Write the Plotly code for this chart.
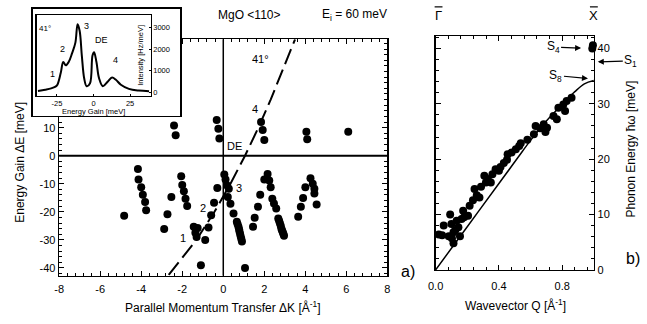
import plotly.graph_objects as go

W, H = 647, 324
FONT = "Liberation Sans, Arial, sans-serif"

# ---------------- data: panel a) ----------------
dk_points = [-2.4, -2.32, -0.32, -0.24, -0.19, 1.84, 1.92, 2.0, 4.05, 4.09, 6.09,
             -4.16, -4.13, -4.0, -3.92, -3.81, -3.76, -4.83,
             -2.53, -2.72, -2.88,
             -2.05, -2.0, -1.92, -1.84, -1.76,
             -1.44, -1.25, -1.36, -1.3, -0.88, -0.72, -1.09,
             -0.59, -0.45, -0.29,
             0.05, 0.11, 0.19, 0.27, 0.22, 0.35, 0.5, 0.66, 0.70, 0.74, 0.77, 0.79, 0.82, 0.85, 0.88, 0.91, 1.06,
             2.16, 2.0, 2.24, 2.31, 2.39, 2.47, 1.80, 1.69, 1.53, 1.45,
             2.58, 2.68, 2.72, 2.76, 2.80, 2.83, 2.86, 2.9, 2.93, 2.96,
             4.25, 4.36, 4.44, 4.44, 4.55, 4.0, 3.89, 3.78, 3.65]
de_points = [10.8, 7.3, 12.7, 9.6, 6.1, 12.0, 9.2, 5.6, 8.5, 5.9, 8.5,
             -4.7, -8.5, -11.2, -13.9, -16.5, -19.4, -21.4,
             -14.7, -20.9, -26.1,
             -7.3, -10.4, -12.7, -15.3, -17.9,
             -25.3, -25.8, -27.5, -29.0, -30.0, -25.6, -39.0,
             -21.2, -16.8, -11.5,
             -6.7, -8.5, -10.6, -11.8, -14.7, -17.1, -20.6, -23.5, -24.4, -25.3, -26.2, -27.0, -27.9, -28.8, -29.7, -30.6, -40.0,
             -6.5, -8.5, -8.8, -11.2, -15.3, -17.0, -13.9, -18.2, -22.1, -25.3,
             -18.8, -22.4, -23.2, -24.1, -25.0, -25.9, -26.6, -27.3, -27.9, -28.5,
             -8.0, -10.0, -11.8, -13.5, -17.4, -11.2, -15.1, -18.2, -21.8]

# scan curve (dashed)
scan_dk = [-2.66, -1.31, -0.43, 0.35, 1.06, 1.71, 2.31, 2.88, 3.50]
scan_de = [-42.5, -30.0, -20.0, -10.0, 0.0, 10.0, 20.0, 30.0, 41.5]

a_xticks = [-8, -6, -4, -2, 0, 2, 4, 6, 8]
a_yticks = [-40, -30, -20, -10, 0, 10]

# ---------------- data: inset spectrum ----------------
inset_e = [-38, -33, -29, -26, -24.7, -22.4, -20.7, -19.0, -17.0, -14.7, -12.4, -10.9, -9.5, -8.0,
           -6.4, -4.7, -2.4, -0.7, 0.4, 2.0, 3.8, 6.4, 9.8, 12.7, 15.3, 18.7, 24.2, 30.9, 38]
inset_i = [60, 120, 180, 260, 350, 900, 1400, 1250, 1400, 1800, 2300, 3150, 2850, 1700,
           650, 280, 420, 1700, 1850, 1400, 650, 280, 500, 680, 580, 350, 160, 80, 50]
inset_xticks = [-25, 0, 25]
inset_yticks = [0, 1000, 2000, 3000]

# ---------------- data: panel b) ----------------
q_points = [0.02, 0.041, 0.051, 0.083, 0.092, 0.10, 0.103, 0.113, 0.113, 0.125, 0.133, 0.144, 0.154,
            0.164, 0.174, 0.18, 0.205, 0.215, 0.236, 0.246, 0.26, 0.277, 0.287, 0.308, 0.318, 0.33,
            0.349, 0.359, 0.379, 0.40, 0.41, 0.431, 0.451, 0.455, 0.48, 0.507, 0.528, 0.538, 0.58,
            0.621, 0.632, 0.66, 0.683, 0.694, 0.704, 0.745, 0.766, 0.776, 0.807, 0.818, 0.828, 0.859,
            0.99, 0.994]
e_points = [6.4, 6.25, 8.0, 6.1, 10.0, 8.3, 5.7, 6.8, 4.8, 7.2, 8.9, 7.7, 6.1,
            9.2, 10.7, 9.5, 9.8, 11.6, 12.6, 14.6, 13.5, 13.1, 15.0, 17.0, 15.8, 16.4,
            15.8, 17.3, 18.2, 17.9, 18.6, 19.3, 19.9, 20.9, 21.2, 21.8, 22.4, 22.9, 23.5,
            24.5, 26.0, 25.6, 26.3, 24.9, 25.7, 27.8, 27.2, 29.3, 29.9, 28.7, 30.5, 31.1,
            40.0, 40.6]
disp_q = [0.0, 0.2, 0.4, 0.52, 0.6, 0.7, 0.8, 0.88, 0.94, 1.0]
disp_e = [0.0, 7.8, 15.6, 20.3, 23.4, 26.9, 29.9, 32.2, 33.6, 34.2]
b_xticks = [0.0, 0.4, 0.8]
b_yticks = [0, 10, 20, 30, 40]


def px(x):
    return x / W


def py(y):
    return 1 - y / H


fig = go.Figure()

# panel a traces
fig.add_trace(go.Scatter(x=scan_dk, y=scan_de, mode="lines",
                         line=dict(color="black", width=2, dash="16px,6px"),
                         xaxis="x", yaxis="y", hoverinfo="skip"))
fig.add_trace(go.Scatter(x=dk_points, y=de_points, mode="markers",
                         marker=dict(color="black", size=8),
                         xaxis="x", yaxis="y", cliponaxis=False))

# panel b traces
fig.add_trace(go.Scatter(x=disp_q, y=disp_e, mode="lines", line_shape="spline",
                         line=dict(color="black", width=1.5), xaxis="x2", yaxis="y2"))
fig.add_trace(go.Scatter(x=q_points, y=e_points, mode="markers",
                         marker=dict(color="black", size=8), xaxis="x2", yaxis="y2",
                         cliponaxis=False))

# white cover for the inset box
fig.add_trace(go.Scatter(x=[-0.1, 1.1, 1.1, -0.1, -0.1], y=[-0.1, -0.1, 1.1, 1.1, -0.1],
                         mode="lines", fill="toself", fillcolor="white",
                         line=dict(width=0, color="white"), xaxis="x3", yaxis="y3",
                         hoverinfo="skip"))

# inset spectrum
fig.add_trace(go.Scatter(x=inset_e, y=inset_i, mode="lines", line_shape="spline",
                         line=dict(color="black", width=2), xaxis="x4", yaxis="y4"))

axis_common = dict(showgrid=False, zeroline=False, showline=True, linecolor="black",
                   linewidth=1.5, ticks="inside", tickcolor="black", mirror="ticks",
                   tickfont=dict(family=FONT, size=11, color="black"))

fig.update_layout(
    width=W, height=H, autosize=False,
    margin=dict(l=0, r=0, t=0, b=0),
    paper_bgcolor="white", plot_bgcolor="white",
    showlegend=False,
    font=dict(family=FONT, color="black"),
    xaxis=dict(axis_common, domain=[px(52), px(386)], range=[-8, 8], anchor="y",
               tickmode="array", tickvals=a_xticks, ticktext=[str(v) for v in a_xticks],
               ticklen=5, ticklabelstandoff=3,
               minor=dict(tickmode="linear", tick0=0, dtick=0.4, ticklen=3,
                          ticks="inside", tickcolor="black")),
    yaxis=dict(axis_common, domain=[py(281), py(40)], range=[-42.8, 41.5], anchor="x",
               tickmode="array", tickvals=a_yticks, ticktext=[str(v) for v in a_yticks],
               ticklen=5, minor=dict(tickmode="linear", tick0=0, dtick=2, ticklen=3,
                                     ticks="inside", tickcolor="black")),
    xaxis2=dict(axis_common, domain=[px(435), px(596)], range=[0, 1.0], anchor="y2",
                tickmode="array", tickvals=b_xticks, ticktext=["%.1f" % v for v in b_xticks],
                ticklen=5, ticklabelstandoff=5,
                minor=dict(tickmode="linear", tick0=0, dtick=0.08, ticklen=3,
                           ticks="inside", tickcolor="black")),
    yaxis2=dict(axis_common, domain=[py(275), py(37)], range=[0, 42.2], anchor="x2",
                side="right", tickmode="array", tickvals=b_yticks,
                ticktext=[str(v) for v in b_yticks], ticklen=5,
                minor=dict(tickmode="linear", tick0=0, dtick=2, ticklen=3,
                           ticks="inside", tickcolor="black")),
    xaxis3=dict(domain=[px(25), px(175)], range=[0, 1], anchor="y3", showgrid=False,
                zeroline=False, showline=True, mirror=True, linecolor="black",
                linewidth=1.5, showticklabels=False, ticks=""),
    yaxis3=dict(domain=[py(118), py(9)], range=[0, 1], anchor="x3", showgrid=False,
                zeroline=False, showline=True, mirror=True, linecolor="black",
                linewidth=1.5, showticklabels=False, ticks=""),
    xaxis4=dict(domain=[px(29), px(145)], range=[-39, 39], anchor="y4", showgrid=False,
                zeroline=False, showline=True, mirror=True, linecolor="black", linewidth=1.2,
                ticks="inside", ticklen=2, tickcolor="black", tickmode="array",
                tickvals=inset_xticks, ticktext=[str(v) for v in inset_xticks],
                ticklabelstandoff=0,
                tickfont=dict(family=FONT, size=7.5, color="black")),
    yaxis4=dict(domain=[py(98), py(15)], range=[-180, 3590], anchor="x4", side="right",
                showgrid=False, zeroline=False, showline=True, mirror=True,
                linecolor="black", linewidth=1.2, ticks="inside", ticklen=2,
                tickcolor="black", tickmode="array", tickvals=inset_yticks,
                ticktext=[str(v) for v in inset_yticks],
                tickfont=dict(family=FONT, size=7.5, color="black")),
)

# zero lines of panel a
fig.add_shape(type="line", xref="x", yref="y domain", x0=0, x1=0, y0=0, y1=1,
              line=dict(color="black", width=1.5))
fig.add_shape(type="line", xref="x domain", yref="y", x0=0, x1=1, y0=0, y1=0,
              line=dict(color="black", width=2))
# overbars of Gamma and X
for cx in (438, 596):
    fig.add_shape(type="line", xref="paper", yref="paper", x0=px(cx - 4), x1=px(cx + 4),
                  y0=py(7), y1=py(7), line=dict(color="black", width=1.2))

ann = []


def text(x, y, s, size=12, xref="paper", yref="paper", angle=0):
    ann.append(dict(x=x, y=y, xref=xref, yref=yref, text=s, showarrow=False,
                    xanchor="center", yanchor="middle",
                    textangle=angle, font=dict(family=FONT, size=size, color="black")))


text(px(245), py(15), "MgO &lt;110&gt;", 12)
text(px(352), py(15), "E<sub>i</sub> = 60 meV", 12)
text(px(219), py(313), "Parallel Momentum Transfer ΔK [Å<sup>-1</sup>]", 12)
text(px(12), py(165), "Energy Gain ΔE [meV]", 12, angle=-90)
text(px(516), py(311), "Wavevector Q [Å<sup>-1</sup>]", 12)
text(px(634), py(152), "Phonon Energy ħω [meV]", 12, angle=-90)
text(px(407), py(277), "a)", 16)
text(px(636), py(263), "b)", 16)
text(px(438), py(16), "Γ", 13)
text(px(596), py(16), "X", 13)

# labels inside panel a
text(1.8, 34.6, "41°", 11, "x", "y")
text(1.53, 16.6, "4", 11, "x", "y")
text(0.53, 3.6, "DE", 11, "x", "y")
text(0.75, -11.6, "3", 11, "x", "y")
text(-1.0, -18.6, "2", 11, "x", "y")
text(-1.96, -29.3, "1", 11, "x", "y")

# inset labels
text(-33, 2970, "41°", 8, "x4", "y4")
text(-28, 850, "1", 9, "x4", "y4")
text(-21.3, 2000, "2", 9, "x4", "y4")
text(-4.7, 3050, "3", 9, "x4", "y4")
text(5.3, 2400, "DE", 9, "x4", "y4")
text(14.7, 1500, "4", 9, "x4", "y4")
text(32, 1700, "Intensity [Hz/meV]", 7.5, "x4", "y4", angle=-90)
text(px(87), py(113.5), "Energy Gain [meV]", 7.5)

# S arrows in panel b (paper coordinates so S1 outside the axis is still drawn)
for (hx, hy, s, dx, dy) in [(583, 49, "S<sub>4</sub>", -28, -1),
                            (600, 63, "S<sub>1</sub>", 33, -1),
                            (590, 80, "S<sub>8</sub>", -32, -3)]:
    ann.append(dict(x=px(hx), y=py(hy), xref="paper", yref="paper", text=s, showarrow=True,
                    ax=dx, ay=dy, arrowhead=2, arrowsize=1, arrowwidth=1.2,
                    arrowcolor="black", standoff=0,
                    font=dict(family=FONT, size=12, color="black")))

fig.update_layout(annotations=ann)
fig.write_html("out.html", config={"displayModeBar": False, "staticPlot": True},
               post_script="document.body.style.margin='0px';document.body.style.overflow='hidden';")
